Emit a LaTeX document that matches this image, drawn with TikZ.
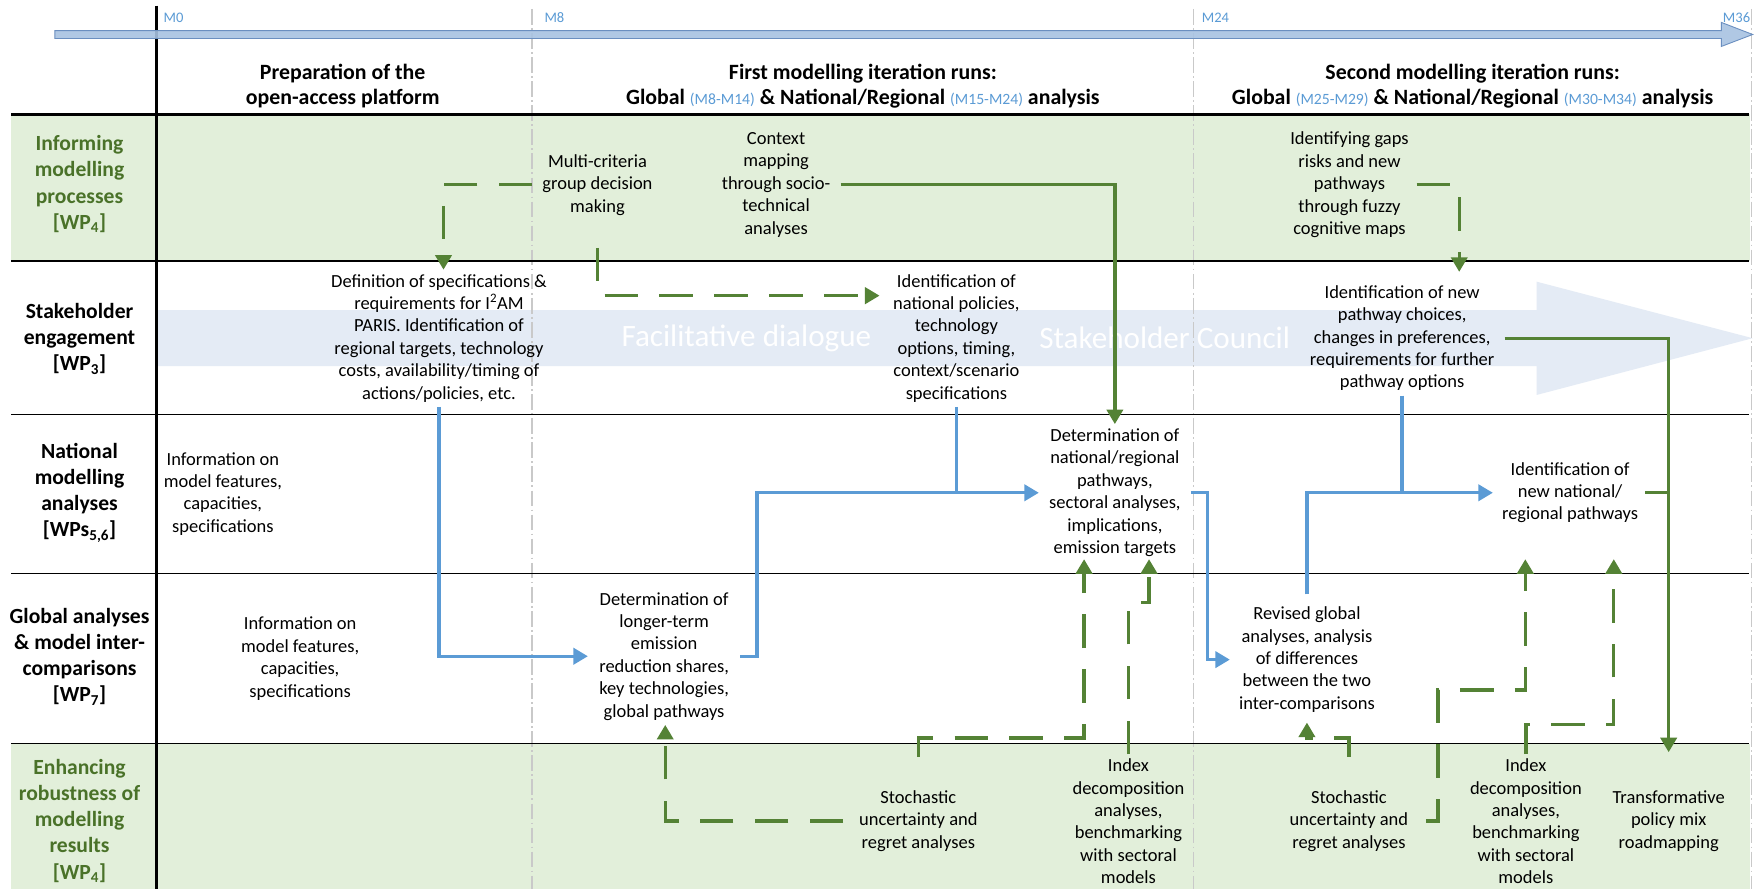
\documentclass[tikz,border=0pt]{standalone}
\usepackage{fontspec}
\setmainfont{Carlito}
\usetikzlibrary{arrows.meta,calc}
\definecolor{gband}{HTML}{E2EFDA}
\definecolor{gline}{HTML}{548235}
\definecolor{gtext}{HTML}{4A7229}
\definecolor{bline}{HTML}{5B9BD5}
\definecolor{mtext}{HTML}{5B9BD5}
\definecolor{bigband}{HTML}{E4EBF5}
\definecolor{tlfill}{HTML}{A8C3E2}
\definecolor{tldraw}{HTML}{6B8FC0}
\definecolor{vgrid}{HTML}{C9C9C9}
\newcommand{\msm}[1]{{\color{mtext}\fontsize{14}{16}\selectfont\mdseries #1}}
\begin{document}
\begin{tikzpicture}[x=1pt,y=-1pt,
  txt/.style={align=center,inner sep=4pt,font=\fontsize{16.5}{20}\selectfont},
  rowlab/.style={align=center,inner sep=0pt,font=\fontsize{19.3}{23.4}\selectfont\bfseries},
  hdr/.style={align=center,inner sep=0pt,font=\fontsize{19.5}{22.4}\selectfont\bfseries},
  mlab/.style={inner sep=0pt,text=mtext,font=\fontsize{13}{15}\selectfont},
  bandtxt/.style={inner sep=0pt,text=white,font=\fontsize{27.8}{30}\selectfont},
  gsolid/.style={draw=gline,line width=3pt},
  gdash/.style={draw=gline,line width=3pt,dash pattern=on 30pt off 19pt},
  bsolid/.style={draw=bline,line width=3pt},
  arrowtip/.style={-{Triangle[length=13pt,width=14.5pt]}},
  rowline/.style={draw=black,line width=1.3pt},
  vgridline/.style={draw=vgrid,line width=1pt,dash pattern=on 14pt off 3pt on 1.5pt off 3pt},
]
\useasboundingbox (0,0) rectangle (1568,794);
\fill[white] (0,0) rectangle (1568,794);
% bands
\fill[gband] (10,102) rectangle (1563,233);
\fill[gband] (10,664) rectangle (1563,794);
\fill[bigband] (140,277) -- (1372,277) -- (1372,251.5) -- (1565,302) -- (1372,352.7) -- (1372,327) -- (140,327) -- cycle;
\node[bandtxt] (fd) at (666.5,302) {Facilitative dialogue};
\node[bandtxt] (sc) at (1040,302) {Stakeholder Council};
% grid
\foreach \x in {475,1066,1564} \draw[vgridline] (\x,8) -- (\x,794);
\draw[rowline] (10,233) -- (1562,233);
\draw[rowline] (10,370) -- (1562,370);
\draw[rowline] (10,512) -- (1562,512);
\draw[rowline] (10,664) -- (1562,664);
\draw[black,line width=2.5pt] (10,102) -- (1562,102);
\draw[black,line width=2.7pt] (140,5) -- (140,794);
% timeline
\draw[draw=tldraw,fill=tlfill,fill opacity=0.9,line width=0.8pt] (49,27.4) -- (1537,27.4) -- (1537,20) -- (1565,30.8) -- (1537,41.5) -- (1537,34.4) -- (49,34.4) -- cycle;
\node[mlab,anchor=west] (m0) at (146,15.5) {M0};
\node[mlab,anchor=west] (m8) at (486,15.5) {M8};
\node[mlab,anchor=west] (m24) at (1073,15.5) {M24};
\node[mlab,anchor=east] (m36) at (1563,15.5) {M36};
% headers
\node[hdr] (h1) at (306,77) {Preparation of the\\open-access platform};
\node[hdr] (h2) at (770.5,77) {First modelling iteration runs:\\Global \msm{(M8-M14)} \& National/Regional \msm{(M15-M24)} analysis};
\node[hdr] (h3) at (1315,77) {Second modelling iteration runs:\\Global \msm{(M25-M29)} \& National/Regional \msm{(M30-M34)} analysis};
% row labels
\node[rowlab,text=gtext] (r1) at (71,164.5) {Informing\\modelling\\processes\\{}[WP\textsubscript{4}]};
\node[rowlab] (r2) at (71,302.6) {Stakeholder\\engagement\\{}[WP\textsubscript{3}]};
\node[rowlab] (r3) at (71,439.8) {National\\modelling\\analyses\\{}[WPs\textsubscript{5,6}]};
\node[rowlab] (r4) at (71,586.2) {Global analyses\\\& model inter-\\comparisons\\{}[WP\textsubscript{7}]};
\node[rowlab,text=gtext] (r5) at (71,733) {Enhancing\\robustness of\\modelling\\results\\{}[WP\textsubscript{4}]};
% content nodes
\node[txt] (mcdm) at (533.5,165) {Multi-criteria\\group decision\\making};
\node[txt] (ctx) at (693,165) {Context\\mapping\\through socio-\\technical\\analyses};
\node[txt] (gaps) at (1205,165) {Identifying gaps\\risks and new\\pathways\\through fuzzy\\cognitive maps};
\node[txt] (def) at (392,302) {Definition of specifications \&\\requirements for I\textsuperscript{2}AM\\PARIS. Identification of\\regional targets, technology\\costs, availability/timing of\\actions/policies, etc.};
\node[txt] (natpol) at (854,302) {Identification of\\national policies,\\technology\\options, timing,\\context/scenario\\specifications};
\node[txt] (newchoice) at (1252,302) {Identification of new\\pathway choices,\\changes in preferences,\\requirements for further\\pathway options};
\node[txt] (info3) at (199,441) {Information on\\model features,\\capacities,\\specifications};
\node[txt] (detnat) at (995.5,440) {Determination of\\national/regional\\pathways,\\sectoral analyses,\\implications,\\emission targets};
\node[txt] (newnat) at (1402,440) {Identification of\\new national/\\regional pathways};
\node[txt] (info4) at (268,588) {Information on\\model features,\\capacities,\\specifications};
\node[txt] (longterm) at (593,586) {Determination of\\longer-term\\emission\\reduction shares,\\key technologies,\\global pathways};
\node[txt] (revised) at (1167,589) {Revised global\\analyses, analysis\\of differences\\between the two\\inter-comparisons};
\node[txt] (stoch1) at (820,733) {Stochastic\\uncertainty and\\regret analyses};
\node[txt] (index1) at (1007.6,733.4) {Index\\decomposition\\analyses,\\benchmarking\\with sectoral\\models};
\node[txt] (stoch2) at (1204.5,733) {Stochastic\\uncertainty and\\regret analyses};
\node[txt] (index2) at (1362.5,733.4) {Index\\decomposition\\analyses,\\benchmarking\\with sectoral\\models};
\node[txt] (transf) at (1490,733) {Transformative\\policy mix\\roadmapping};
% blue connectors
\draw[bsolid,arrowtip] (def.south) |- ($(longterm.west)+(-6,0)$);
\draw[bsolid,arrowtip] ($(longterm.east)+(6,0)$) -- ++(15,0) |- ($(detnat.west)+(-5,0)$);
\draw[bsolid] (natpol.south) -- (natpol.south |- detnat.west);
\draw[bsolid,arrowtip] ($(detnat.east)+(5,0)$) -- ++(15,0) |- ($(revised.west)+(-4,0)$);
\draw[bsolid,arrowtip] ($(revised.north)+(0,-7)$) |- ($(newnat.west)+(-4,0)$);
\draw[bsolid] (newchoice.south) -- (newchoice.south |- newnat.west);
% green solid connectors
\draw[gsolid,arrowtip] ($(ctx.east)+(5,0)$) -| (detnat.north);
\draw[gsolid,arrowtip] ($(newchoice.east)+(5,0)$) -| ($(transf.north)+(0,-30)$);
\draw[gsolid] ($(newnat.east)+(2,0)$) -- (newnat.east -| transf.north);
% green dashed connectors
\draw[gdash,arrowtip] ($(mcdm.west)+(-5,0)$) -| ($(def.north)+(4,0)$);
\draw[gdash,arrowtip] ($(mcdm.south)+(0,25)$) |- ($(natpol.west)+(-8,-38)$);
\draw[gdash,arrowtip] ($(gaps.east)+(3,0)$) -| ($(newchoice.north)+(51,-8)$);
\draw[gdash,arrowtip] ($(stoch1.west)+(-10,0)$) -| ($(longterm.south)+(1,0)$);
\draw[gdash,arrowtip] ($(stoch1.north)+(0,-26)$) |- (968,659) -- ($(detnat.south)+(-27.5,-2)$);
\draw[gdash,arrowtip] (index1.north) |- (1026,538) -- ($(detnat.south)+(30.5,-2)$);
\draw[gdash,arrowtip] ($(stoch2.north)+(0,-26)$) |- (1167,659) -- ($(revised.south)+(0,5)$);
\draw[gdash,arrowtip] ($(stoch2.east)+(12,0)$) -| (1284,616) -| ($(newnat.south)+(-40,28)$);
\draw[gdash,arrowtip] (index2.north) |- (1441,647) -- ($(newnat.south)+(39,28)$);
\end{tikzpicture}
\end{document}
